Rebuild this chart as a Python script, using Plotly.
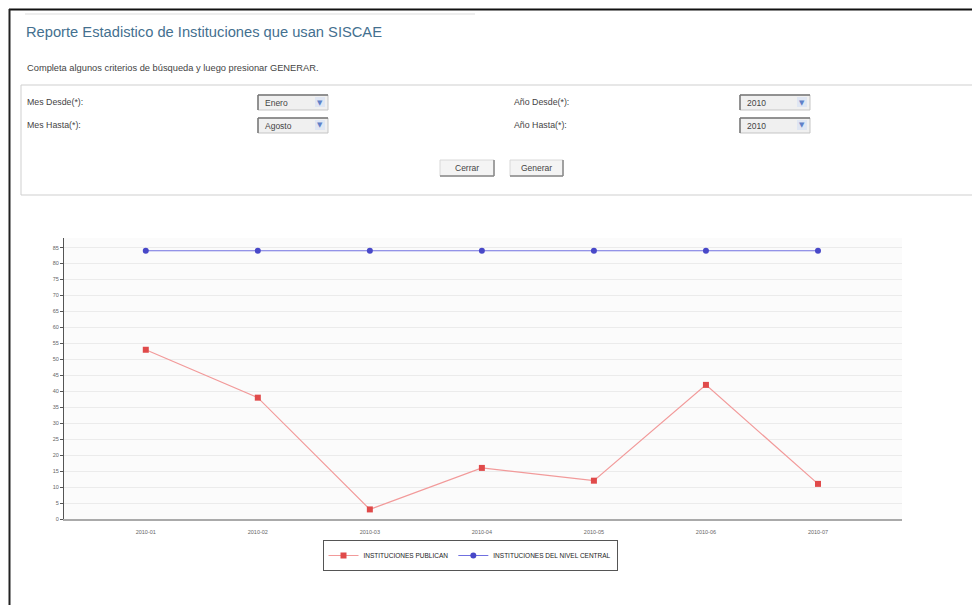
import plotly.graph_objects as go

months = ["2010-01", "2010-02", "2010-03", "2010-04", "2010-05", "2010-06", "2010-07"]
publicas = [53, 38, 3, 16, 12, 42, 11]
nivel_central = [84, 84, 84, 84, 84, 84, 84]
y_ticks = list(range(0, 90, 5))

# page body has an 8px margin; figure covers reference pixels 8..980 x 8..605
OFF = 8
W, H = 980 - OFF, 605 - OFF
L, R, T, B = 64, 902, 238, 519


def px(x):
    return (x - L) / (R - L)


def py(y):
    return (B - y) / (B - T)


fig = go.Figure()
fig.add_trace(go.Scatter(
    x=months, y=publicas, mode="lines+markers", name="INSTITUCIONES PUBLICAN",
    line=dict(color="#f29a9a", width=1.2),
    marker=dict(symbol="square", size=6, color="#e04a4a"),
))
fig.add_trace(go.Scatter(
    x=months, y=nivel_central, mode="lines+markers", name="INSTITUCIONES DEL NIVEL CENTRAL",
    line=dict(color="#7070e0", width=1.2),
    marker=dict(symbol="circle", size=6, color="#4848c8"),
))

shapes = []
annotations = []

# page frame
shapes.append(dict(type="line", xref="paper", yref="paper", x0=px(9), x1=px(980), y0=py(9.5), y1=py(9.5),
                   line=dict(color="#111111", width=2)))
shapes.append(dict(type="line", xref="paper", yref="paper", x0=px(9.5), x1=px(9.5), y0=py(9), y1=py(605),
                   line=dict(color="#222222", width=2)))
shapes.append(dict(type="line", xref="paper", yref="paper", x0=px(25), x1=px(475), y0=py(14), y1=py(14),
                   line=dict(color="#dddddd", width=1)))
# form box
shapes.append(dict(type="rect", xref="paper", yref="paper", x0=px(21), x1=px(985), y0=py(85), y1=py(195),
                   line=dict(color="#cfcfcf", width=1), fillcolor="white"))

annotations.append(dict(text="Reporte Estadistico de Instituciones que usan SISCAE", xref="paper", yref="paper",
                        x=px(24), y=py(32), xanchor="left", yanchor="middle", showarrow=False,
                        font=dict(family="Liberation Sans", size=14.7, color="#44708f")))
annotations.append(dict(text="Completa algunos criterios de búsqueda y luego presionar GENERAR.", xref="paper",
                        yref="paper", x=px(25), y=py(68), xanchor="left", yanchor="middle", showarrow=False,
                        font=dict(family="Liberation Sans", size=9.3, color="#444444")))

labels = [("Mes Desde(*):", 25, 102), ("Mes Hasta(*):", 25, 125), ("Año Desde(*):", 512, 102),
          ("Año Hasta(*):", 512, 125)]
for txt, x, y in labels:
    annotations.append(dict(text=txt, xref="paper", yref="paper", x=px(x), y=py(y), xanchor="left",
                            yanchor="middle", showarrow=False,
                            font=dict(family="Liberation Sans", size=8.8, color="#444444")))

selects = [("Enero", 258, 95), ("Agosto", 258, 118), ("2010", 740, 95), ("2010", 740, 118)]
for txt, x, y in selects:
    shapes.append(dict(type="rect", xref="paper", yref="paper", x0=px(x), x1=px(x + 70), y0=py(y), y1=py(y + 15),
                       line=dict(color="#c5c5c5", width=1), fillcolor="#f0f0f0"))
    shapes.append(dict(type="line", xref="paper", yref="paper", x0=px(x), x1=px(x + 70), y0=py(y), y1=py(y),
                       line=dict(color="#777777", width=1.5)))
    shapes.append(dict(type="line", xref="paper", yref="paper", x0=px(x), x1=px(x), y0=py(y), y1=py(y + 15),
                       line=dict(color="#777777", width=1.5)))
    shapes.append(dict(type="rect", xref="paper", yref="paper", x0=px(x + 57), x1=px(x + 67), y0=py(y + 2),
                       y1=py(y + 12), line=dict(width=0), fillcolor="#dfe6f3"))
    annotations.append(dict(text=txt, xref="paper", yref="paper", x=px(x + 5), y=py(y + 8), xanchor="left",
                            yanchor="middle", showarrow=False,
                            font=dict(family="Liberation Sans", size=8.5, color="#444444")))
    annotations.append(dict(text="▼", xref="paper", yref="paper", x=px(x + 62), y=py(y + 7.5), xanchor="center",
                            yanchor="middle", showarrow=False,
                            font=dict(family="DejaVu Sans", size=7, color="#6080c8")))

buttons = [("Cerrar", 440, 494), ("Generar", 510, 563)]
for txt, x0, x1 in buttons:
    shapes.append(dict(type="rect", xref="paper", yref="paper", x0=px(x0), x1=px(x1), y0=py(160), y1=py(176),
                       line=dict(color="#d8d8d8", width=1), fillcolor="#f4f4f4"))
    shapes.append(dict(type="line", xref="paper", yref="paper", x0=px(x0), x1=px(x1), y0=py(176), y1=py(176),
                       line=dict(color="#888888", width=1.5)))
    shapes.append(dict(type="line", xref="paper", yref="paper", x0=px(x1), x1=px(x1), y0=py(160), y1=py(176),
                       line=dict(color="#888888", width=1.5)))
    annotations.append(dict(text=txt, xref="paper", yref="paper", x=px((x0 + x1) / 2), y=py(168),
                            xanchor="center", yanchor="middle", showarrow=False,
                            font=dict(family="Liberation Sans", size=8.5, color="#444444")))

fig.update_layout(
    width=W, height=H,
    margin=dict(l=L - OFF, r=980 - R, t=T - OFF, b=605 - B, pad=0),
    paper_bgcolor="white",
    plot_bgcolor="#fbfbfb",
    shapes=shapes,
    annotations=annotations,
    showlegend=True,
    legend=dict(orientation="h", x=px(470), xanchor="center", y=py(540), yanchor="top",
                bordercolor="#555555", borderwidth=1, bgcolor="white",
                font=dict(family="Liberation Sans", size=6.5, color="#222222"),
                itemwidth=30, tracegroupgap=0),
    xaxis=dict(type="category", range=[-0.73, 6.75], showgrid=False, showline=True, linecolor="#aaaaaa",
               linewidth=1.5, ticks="outside", ticklen=7, tickcolor="rgba(0,0,0,0)",
               tickfont=dict(family="Liberation Sans", size=5.5, color="#666666"),
               zeroline=False, fixedrange=True),
    yaxis=dict(range=[0, 88], tickvals=y_ticks, showgrid=True, gridcolor="#ebebeb", gridwidth=1,
               showline=True, linecolor="#555555", linewidth=1, ticks="outside", ticklen=3,
               tickcolor="#555555", tickfont=dict(family="Liberation Sans", size=5.5, color="#666666"),
               zeroline=False, fixedrange=True),
)

fig.write_html("out.html")
